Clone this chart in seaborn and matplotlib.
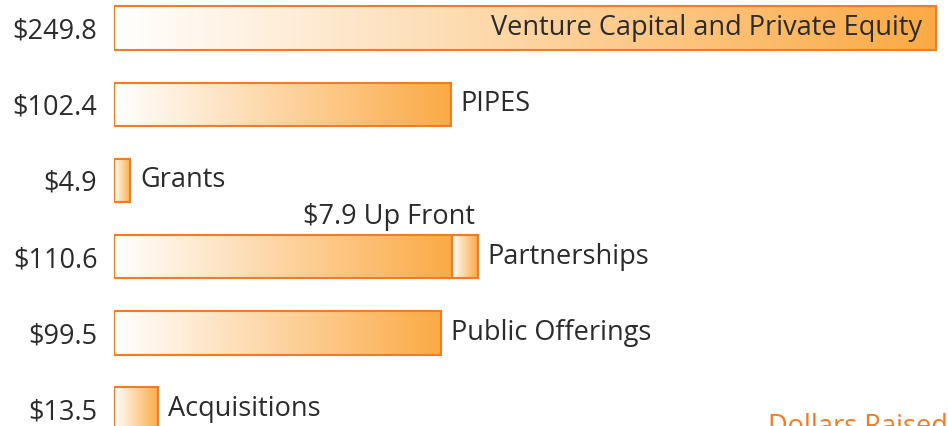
import numpy as np
import pandas as pd
import matplotlib.pyplot as plt
import seaborn as sns
from matplotlib.colors import LinearSegmentedColormap

# chart values
categories = ['Venture Capital and Private Equity', 'PIPES', 'Grants',
              'Partnerships', 'Public Offerings', 'Acquisitions']
dollars = [249.8, 102.4, 4.9, 110.6, 99.5, 13.5]
up_front = [0, 0, 0, 7.9, 0, 0]
value_labels = ['$249.8', '$102.4', '$4.9', '$110.6', '$99.5', '$13.5']

df = pd.DataFrame({'category': categories, 'dollars': dollars})

sns.set_style('white')
plt.rcParams['font.family'] = ['Open Sans', 'DejaVu Sans']

edge = '#F47B20'
text_col = '#2b2b2b'
fs = 19.5
grad = LinearSegmentedColormap.from_list('grad', ['#FFFFFF', '#FBAA45'])
gradient = np.linspace(0, 1, 256).reshape(1, -1)

fig = plt.figure(figsize=(9.48, 4.26), dpi=100)
ax = fig.add_axes([114 / 948, 0, 1 - 114 / 948, 1])

sns.barplot(data=df, y='category', x='dollars', orient='h', width=0.57,
            facecolor='none', edgecolor=edge, linewidth=1.5, ax=ax)

# gradient fill clipped to each bar
for patch, total, extra in zip(ax.patches, dollars, up_front):
    patch.set_zorder(3)
    y0 = patch.get_y()
    h = patch.get_height()
    im = ax.imshow(gradient, cmap=grad, aspect='auto', zorder=1,
                   extent=[0, total - extra, y0 + h, y0], interpolation='bicubic')
    im.set_clip_path(patch)

# up-front segment of the partnership bar
for i, (total, extra) in enumerate(zip(dollars, up_front)):
    if extra > 0:
        seg = ax.barh(i, extra, left=total - extra, height=0.57,
                      facecolor='none', edgecolor=edge, linewidth=1.5, zorder=4)[0]
        im = ax.imshow(gradient, cmap=grad, aspect='auto', zorder=2,
                       extent=[total - extra, total, i + 0.285, i - 0.285],
                       interpolation='bicubic')
        im.set_clip_path(seg)
        ax.text(total - 1, i - 0.34, f'${extra} Up Front', ha='right', va='bottom',
                fontsize=fs, color=text_col)

# category labels
for i, (cat, total) in enumerate(zip(categories, dollars)):
    if total > 200:
        ax.text(total - 4.3, i, cat, ha='right', va='center', fontsize=fs, color=text_col)
    else:
        ax.text(total + 3, i, cat, ha='left', va='center', fontsize=fs, color=text_col)

ax.set_xlim(0, (948 - 114) / 3.29)
ax.set_ylim(5.22, -0.367)
ax.set_yticks(range(len(categories)))
ax.set_yticklabels(value_labels, fontsize=fs, color=text_col)
ax.tick_params(axis='y', length=0, pad=12)
ax.set_xticks([])
ax.set_xlabel('')
ax.set_ylabel('')
sns.despine(ax=ax, left=True, bottom=True)

fig.text(768 / 948, -0.035, 'Dollars Raised', color=edge, fontsize=fs, ha='left', va='bottom')

fig.savefig('out.png', dpi=100)
